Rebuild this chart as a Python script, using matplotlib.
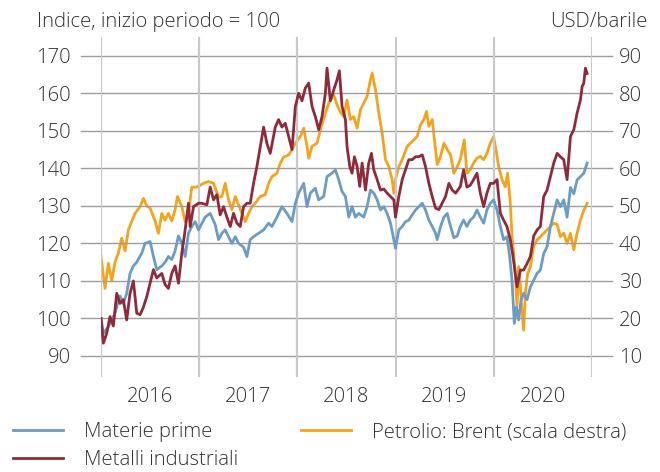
import numpy as np
import pandas as pd
import matplotlib
matplotlib.use("Agg")
import matplotlib.pyplot as plt

plt.rcParams['font.family'] = ['Open Sans', 'DejaVu Sans']
plt.rcParams['font.weight'] = 'light'

# time axis: months elapsed since 1 Jan 2016
mp_t = [0, 0.29, 0.9, 1.31, 1.71, 2.33, 2.73, 3.14, 3.55, 3.96, 4.37, 4.98, 5.39, 6.0, 6.41, 6.82,
        7.43, 7.84, 8.24, 8.65, 9.06, 9.47, 9.88, 10.29, 10.69, 11.1, 11.51, 11.92, 12.73, 13.35,
        13.96, 14.37, 14.78, 15.18, 15.59, 16.0, 16.41, 16.82, 17.43, 17.84, 18.24, 18.65, 19.27,
        19.88, 20.49, 20.9, 21.51, 22.12, 22.73, 23.35, 23.76, 24.16, 24.78, 25.18, 25.59, 26.2,
        26.61, 27.22, 27.63, 28.24, 28.65, 29.06, 29.47, 29.88, 30.29, 30.69, 31.1, 31.51, 32.12,
        32.53, 32.94, 33.35, 33.76, 34.16, 34.57, 34.98, 35.39, 35.8, 36.0, 36.41, 36.82, 37.22,
        37.63, 38.04, 38.45, 38.86, 39.27, 39.67, 40.08, 40.49, 40.9, 41.1, 41.51, 41.92, 42.33,
        42.73, 43.14, 43.55, 43.92, 44.33, 44.73, 45.14, 45.55, 45.96, 46.37, 46.78, 47.18, 47.59,
        48.0, 48.41, 48.82, 49.22, 49.63, 49.96, 50.24, 50.53, 50.78, 51.06, 51.35, 51.67, 52.08,
        52.49, 52.9, 53.31, 53.71, 54.12, 54.53, 54.94, 55.35, 55.76, 56.16, 56.57, 56.98, 57.39,
        57.8, 58.2, 58.61, 59.02, 59.43]
materie_prime = [100, 96, 97.8, 99.6, 101.4, 106, 104, 106.7, 112, 114, 115, 117.4, 120, 120.5,
                 116.5, 113, 114, 115, 116.5, 115.7, 118, 122, 120, 116.5, 122.7, 124.5, 125.8,
                 123.6, 127, 128, 125, 121, 122.7, 123.6, 121.8, 120, 121.8, 120, 119, 116.5, 121,
                 121.8, 122.7, 123.6, 125.4, 124.5, 127, 129.8, 128, 125.8, 130.7, 133.4, 136,
                 129.8, 133.4, 134.7, 131.6, 132.5, 137.8, 138.7, 139.6, 137, 133.8, 132.5, 127,
                 129.8, 127, 128, 127, 129.8, 134.2, 133.4, 131.6, 128.9, 129.8, 128, 125.4, 121,
                 118.7, 123.6, 124.5, 125.8, 126.2, 127.6, 128.9, 129.8, 130.7, 128.9, 126.2, 124.5,
                 122.7, 121, 124.5, 127, 128, 124.5, 121.5, 122, 124.5, 126.2, 124.5, 126.2, 127,
                 128.9, 127, 125.4, 128.9, 130.7, 131.6, 128.9, 124.5, 121, 121.8, 116.5, 110.2,
                 98.7, 103, 99.6, 105, 106.7, 105, 108.4, 110.2, 112, 112.9, 117.3, 119.1, 124.5,
                 128, 131.6, 129.8, 131.6, 127, 134.9, 133.2, 136.9, 137.8, 138.7, 141.4]

met_t = [0, 0.29, 0.69, 1.1, 1.51, 1.92, 2.33, 2.73, 3.14, 3.55, 3.96, 4.37, 4.78, 5.18, 5.59, 6.0,
         6.41, 6.82, 7.43, 7.84, 8.24, 8.65, 9.06, 9.47, 9.88, 10.29, 10.69, 10.9, 11.31, 11.92,
         12.33, 12.94, 13.35, 13.76, 14.16, 14.57, 14.98, 15.39, 15.8, 16.2, 16.61, 17.02, 17.43,
         17.84, 18.24, 18.65, 19.06, 19.47, 19.88, 20.29, 20.69, 21.31, 21.71, 22.12, 22.53, 22.94,
         23.35, 23.76, 24.16, 24.57, 24.98, 25.39, 25.8, 26.2, 26.61, 27.02, 27.43, 27.63, 28.04,
         28.45, 28.86, 29.14, 29.47, 29.88, 30.08, 30.41, 30.69, 30.98, 31.31, 31.63, 31.92, 32.33,
         32.73, 33.06, 33.35, 33.76, 34.16, 34.57, 34.98, 35.39, 35.8, 36.0, 36.41, 36.82, 37.22,
         37.63, 38.04, 38.45, 38.86, 39.27, 39.67, 40.08, 40.49, 40.9, 41.31, 41.71, 42.12, 42.53,
         42.94, 43.35, 43.92, 44.33, 44.73, 45.14, 45.55, 45.96, 46.37, 46.78, 47.18, 47.59, 48.0,
         48.41, 48.82, 49.22, 49.63, 50.04, 50.37, 50.65, 50.86, 51.27, 51.67, 52.08, 52.49, 52.9,
         53.31, 53.71, 54.12, 54.53, 54.94, 55.35, 55.76, 56.16, 56.57, 56.98, 57.39, 57.8, 58.2,
         58.61, 58.82, 59.02, 59.22, 59.43]
metalli = [100, 93.4, 96, 100.5, 98, 106.7, 104, 105, 99.6, 106.7, 110, 101.4, 101, 103, 105.8,
           109.4, 113, 110.8, 112, 109, 108, 112, 114, 109.4, 117.4, 123.6, 130.7, 124.5, 129.8,
           130.7, 130.7, 130.3, 135, 131.6, 133, 127.6, 129.8, 127, 124.5, 128, 125.4, 124.5,
           129.8, 130.7, 130.7, 136, 140.5, 145.8, 151, 146.6, 144, 151, 153, 151, 152, 148.5, 145,
           156.5, 160, 158, 161.4, 162.7, 156.5, 153.8, 150.3, 153.8, 160, 166.7, 158, 160.9,
           163.6, 166, 156.5, 153, 145.8, 140.5, 138.7, 143.1, 140.5, 135.2, 141.4, 134.2, 141.4,
           144, 139.6, 137, 134.2, 134.5, 133.4, 132.5, 131.6, 127, 132.5, 137, 139.6, 142.3,
           142.3, 143.1, 143.1, 143.6, 140.5, 136, 132.5, 129.4, 129, 130.7, 132.5, 136, 134.2,
           133.4, 135.1, 139.6, 135, 135.5, 137, 138.7, 133.4, 129.8, 133.4, 136, 136, 137, 128,
           126.2, 124.5, 121, 116.5, 112, 108.4, 112.9, 112.9, 114.6, 116.5, 122, 123.6, 124.5,
           132.5, 134.2, 137.8, 141.4, 144, 143.1, 142.3, 137, 148.5, 150.3, 154.7, 158.2, 161.8,
           162.7, 166.7, 165.3]

brent_t = [0, 0.49, 0.9, 1.31, 1.71, 2.12, 2.53, 2.94, 3.35, 3.76, 4.16, 4.78, 5.18, 5.59, 6.0,
           6.61, 7.02, 7.43, 7.84, 8.24, 8.65, 9.06, 9.35, 9.88, 10.29, 10.69, 11.1, 11.71, 12.53,
           13.14, 13.76, 14.37, 14.78, 15.18, 15.59, 16.0, 16.41, 16.82, 17.22, 17.63, 18.04, 18.45,
           18.86, 19.47, 20.08, 20.49, 20.9, 21.51, 21.92, 22.33, 22.94, 23.35, 23.76, 24.37, 24.78,
           25.18, 25.39, 25.8, 26.41, 26.82, 27.43, 27.84, 28.45, 28.86, 29.27, 29.67, 30.08, 30.49,
           30.9, 31.31, 31.71, 32.12, 32.53, 32.94, 33.14, 33.55, 33.96, 34.37, 34.78, 35.18, 35.59,
           35.8, 36.0, 36.41, 36.82, 37.43, 37.84, 38.24, 38.65, 39.06, 39.47, 39.8, 40.08, 40.49,
           40.9, 41.1, 41.51, 41.92, 42.33, 42.73, 43.14, 43.55, 43.92, 44.41, 44.73, 45.14, 45.55,
           45.96, 46.37, 46.78, 47.18, 47.59, 48.0, 48.29, 48.61, 49.02, 49.43, 49.71, 50.04, 50.24,
           50.45, 50.65, 50.86, 51.06, 51.27, 51.47, 51.67, 51.88, 52.16, 52.49, 52.9, 53.31, 53.71,
           54.12, 54.53, 54.94, 55.35, 55.76, 56.16, 56.57, 56.98, 57.39, 57.8, 58.2, 58.61, 59.02,
           59.43]
brent = [36.5, 28, 34.7, 30, 35, 37.4, 41.4, 38, 43.6, 45.8, 48, 49.8, 52, 50, 49.4, 46, 42.7, 48,
         46.2, 48, 46, 49, 52.5, 49.8, 45.8, 48, 55, 55, 56, 56.5, 56, 52.3, 52.5, 56, 51.6, 49,
         52.5, 50.3, 48, 45.8, 48, 49.8, 50.7, 52.5, 53, 56, 57.8, 58.7, 61.4, 63, 63.6, 65, 66.7,
         68.5, 70.7, 65.9, 62.7, 65.9, 66.7, 70.3, 74.7, 77.4, 79.6, 76.9, 75, 73.8, 78.2, 73,
         73.8, 70.7, 75.6, 77.4, 79.2, 83.6, 85.4, 81, 74.7, 69.4, 62.3, 60.5, 57, 53.4, 57, 60.5,
         62.3, 65.9, 66.7, 67.6, 68.5, 71.6, 73, 75.2, 71.2, 73, 65, 61, 63.2, 66.7, 65, 63.6,
         58.7, 60.5, 62.3, 67.6, 58.7, 59.6, 61.4, 62.7, 63.2, 62.3, 64, 66.7, 68.5, 64.9, 60.5,
         57, 55.1, 58.7, 50.7, 41.8, 37.4, 31.2, 23.2, 33.8, 28.4, 21.4, 16.9, 26.7, 32, 33.8,
         39.3, 40.9, 41.8, 42.7, 43.6, 44.5, 45.4, 45, 41.8, 42.7, 40, 42.7, 38.3, 42.7, 46.2,
         48.8, 50.7]

years = [2016, 2017, 2018, 2019, 2020]

c_blue = "#6b9cc4"
c_red = "#8e2a3b"
c_orange = "#f5a31d"
c_text = "#333333"


def to_dates(months):
    return pd.Timestamp("2016-01-01") + pd.to_timedelta(np.array(months) * 30.4375, unit="D")


fig = plt.figure(figsize=(6.6, 4.72), dpi=100)
ax = fig.add_axes([101 / 660, 1 - 377 / 472, 491 / 660, 340 / 472])
ax2 = ax.twinx()

ax.set_xlim(pd.Timestamp("2016-01-01"), pd.Timestamp("2021-01-01"))
ax.set_ylim(84.4, 175)
ax2.set_ylim(4.4, 95)

# horizontal grid, running a bit past both sides of the plot
for v in range(90, 171, 10):
    ax.plot([-0.041, 1.041], [v, v], transform=ax.get_yaxis_transform(),
            color="#9e9e9e", lw=1.0, clip_on=False, zorder=1)
for y in years + [2021]:
    ax.axvline(pd.Timestamp(f"{y}-01-01"), color="#c9c9c9", lw=1.6, zorder=1)

lw = 2.0
ax.plot(to_dates(mp_t), materie_prime, color=c_blue, lw=lw, zorder=3, label="Materie prime")
ax.plot(to_dates(met_t), metalli, color=c_red, lw=lw, zorder=4, label="Metalli industriali")
ax2.plot(to_dates(brent_t), brent, color=c_orange, lw=lw, label="Petrolio: Brent (scala destra)")
ax.set_zorder(2)
ax.patch.set_visible(False)

for a in (ax, ax2):
    for s in a.spines.values():
        s.set_visible(False)

fs = 14.6
ax.set_yticks(range(90, 171, 10))
ax2.set_yticks(range(10, 91, 10))
ax.tick_params(axis="y", length=0, pad=21.6, labelsize=fs, labelcolor=c_text)
ax2.tick_params(axis="y", length=0, pad=19.4, labelsize=fs, labelcolor=c_text)
ax.set_xticks([pd.Timestamp(f"{y}-07-02") for y in years])
ax.set_xticklabels([str(y) for y in years])
ax.tick_params(axis="x", length=0, pad=7, labelsize=fs, labelcolor=c_text)

fig.text(37 / 660, 1 - 27 / 472, "Indice, inizio periodo = 100", fontsize=fs, color=c_text,
         va="baseline", ha="left")
fig.text(648 / 660, 1 - 27 / 472, "USD/barile", fontsize=fs, color=c_text, va="baseline", ha="right")

h1, l1 = ax.get_legend_handles_labels()
h2, l2 = ax2.get_legend_handles_labels()
fig.legend(h1 + h2, l1 + l2, ncol=2, loc="upper left", bbox_to_anchor=(13 / 660, 1 - 422 / 472),
           frameon=False, fontsize=fs, handlelength=2.45, handletextpad=1.05, columnspacing=3.1,
           labelspacing=0.4, borderpad=0, borderaxespad=0, labelcolor=c_text)

fig.savefig("out.png", dpi=100)
